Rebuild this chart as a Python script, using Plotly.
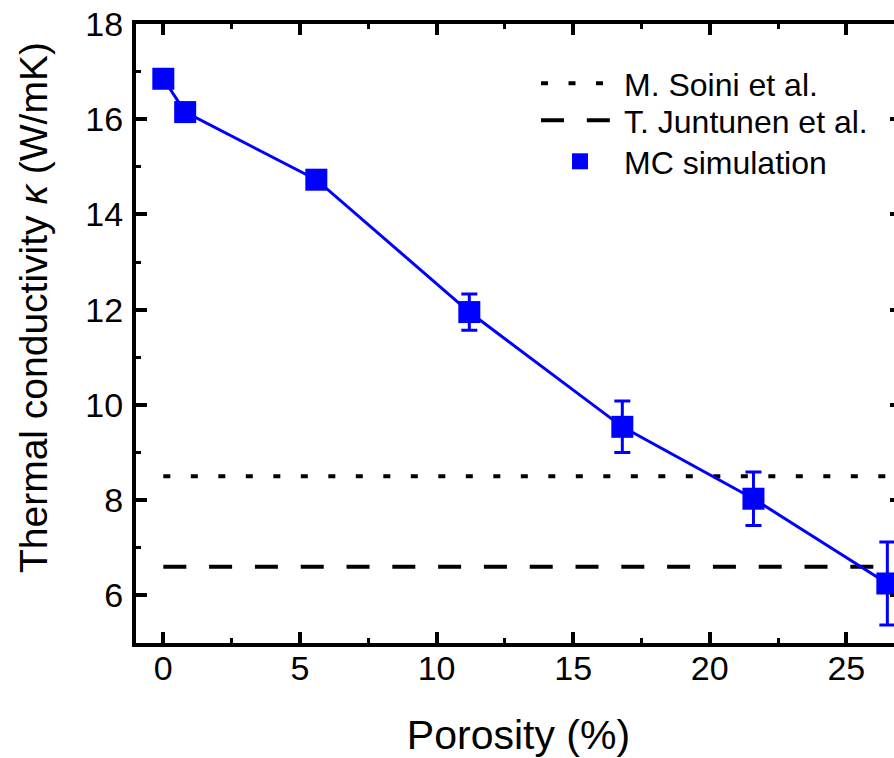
import plotly.graph_objects as go

porosity = [0, 0.8, 5.6, 11.2, 16.8, 21.6, 26.5]
kappa = [16.85, 16.15, 14.73, 11.95, 9.54, 8.03, 6.25]
kappa_err = [0.0, 0.0, 0.1, 0.38, 0.54, 0.56, 0.87]

soini_x = [0, 27]
soini_y = [8.5, 8.5]
juntunen_x = [0, 27]
juntunen_y = [6.6, 6.6]

FONT = "Liberation Sans, Arial, sans-serif"
BLUE = "#0000FF"

fig = go.Figure()
fig.add_trace(go.Scatter(x=soini_x, y=soini_y, mode="lines", name="M. Soini et al.",
                         legend="legend",
                         line=dict(color="black", width=4, dash="7px,20.5px")))
fig.add_trace(go.Scatter(x=juntunen_x, y=juntunen_y, mode="lines", name="T. Juntunen et al.",
                         legend="legend2",
                         line=dict(color="black", width=4, dash="23px,22.8px")))
fig.add_trace(go.Scatter(x=porosity, y=kappa, mode="lines", showlegend=False,
                         line=dict(color=BLUE, width=3)))
fig.add_trace(go.Scatter(x=porosity, y=kappa, mode="markers", name="MC simulation",
                         legend="legend3",
                         marker=dict(symbol="square", size=22, color=BLUE),
                         error_y=dict(type="data", array=kappa_err, visible=True,
                                      color=BLUE, thickness=3, width=8)))

axis_common = dict(showline=True, linecolor="black", linewidth=4, mirror="allticks",
                   ticks="inside", ticklen=11, tickwidth=3.5, tickcolor="black",
                   showgrid=False, zeroline=False,
                   tickfont=dict(family=FONT, size=34, color="black"))

fig.update_xaxes(range=[-1, 27], dtick=5, tick0=0,
                 minor=dict(dtick=2.5, tick0=0, ticks="inside", ticklen=5, tickwidth=3, tickcolor="black"),
                 title=dict(text="Porosity (%)", font=dict(family=FONT, size=41, color="black"), standoff=37),
                 ticklabelstandoff=-8,
                 **axis_common)
fig.update_yaxes(range=[5, 18], dtick=2, tick0=0,
                 minor=dict(dtick=1, tick0=0, ticks="inside", ticklen=5, tickwidth=3, tickcolor="black"),
                 ticklabelstandoff=2,
                 **axis_common)

fig.add_annotation(text="Thermal conductivity <i>κ</i> (W/mK)", textangle=-90,
                   xref="paper", yref="paper", x=0, y=0.5347, xshift=-103, yshift=4,
                   xanchor="center", yanchor="middle", showarrow=False,
                   font=dict(family=FONT, size=39, color="black"))

leg_common = dict(xanchor="left", yanchor="top", x=0.5229,
                  font=dict(family=FONT, size=32, color="black"),
                  bgcolor="rgba(0,0,0,0)", itemwidth=78)

fig.update_layout(
    width=904, height=758,
    margin=dict(l=136, r=3, t=24, b=115, autoexpand=False),
    paper_bgcolor="white", plot_bgcolor="white",
    font=dict(family=FONT, color="black"),
    legend=dict(y=0.9485, **leg_common),
    legend2=dict(y=0.8885, **leg_common),
    legend3=dict(y=0.8223, **leg_common),
)

post = ("document.documentElement.style.overflow='hidden';"
        "document.body.style.overflow='hidden';")
fig.write_html("out.html", post_script=post)
